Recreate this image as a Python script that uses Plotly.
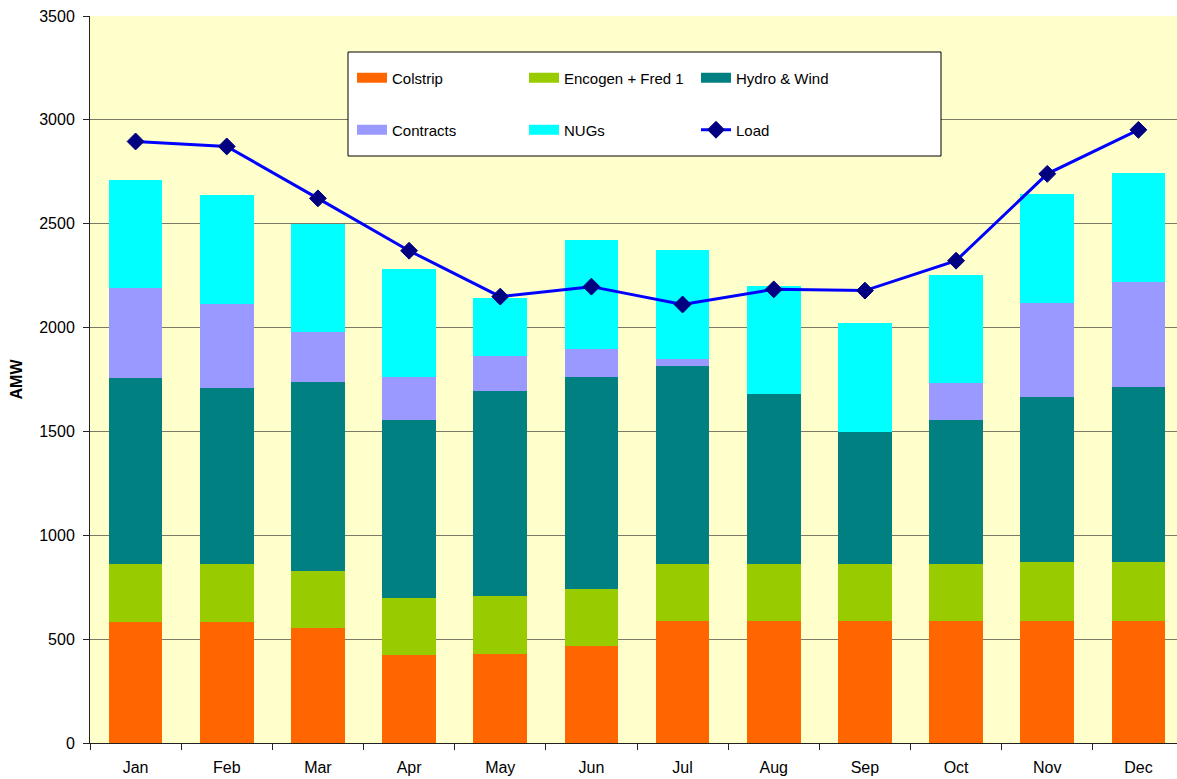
import plotly.graph_objects as go

months = ["Jan", "Feb", "Mar", "Apr", "May", "Jun", "Jul", "Aug", "Sep", "Oct", "Nov", "Dec"]
colstrip = [582, 582, 553, 423, 428, 466, 587, 587, 587, 587, 587, 587]
encogen = [279, 279, 274, 274, 279, 274, 274, 274, 274, 274, 283, 283]
hydro = [894, 847, 913, 856, 990, 1024, 956, 817, 636, 692, 798, 846]
contracts = [435, 407, 238, 207, 168, 135, 34, 0, 0, 178, 452, 505]
nugs = [522, 524, 522, 524, 279, 524, 524, 524, 527, 524, 524, 524]
load = [2896, 2872, 2622, 2370, 2149, 2197, 2111, 2184, 2178, 2322, 2740, 2952]

bar_series = [
    ("Colstrip", colstrip, "#FF6600", "legend"),
    ("Encogen + Fred 1", encogen, "#99CC00", "legend"),
    ("Hydro & Wind", hydro, "#008080", "legend"),
    ("Contracts", contracts, "#9999FF", "legend2"),
    ("NUGs", nugs, "#00FFFF", "legend2"),
]

FONT = "Arial, Liberation Sans, sans-serif"

fig = go.Figure()
for name, vals, color, _ in bar_series:
    fig.add_trace(go.Bar(x=months, y=vals, name=name, marker=dict(color=color, line=dict(width=0)),
                         legendgroup=name, showlegend=False))

# legend entries (rectangular swatches like the original)
for name, vals, color, lg in bar_series:
    fig.add_trace(go.Scatter(x=[None], y=[None], mode="lines", name=name, legendgroup=name,
                             line=dict(color=color, width=10), legend=lg, hoverinfo="skip"))

fig.add_trace(go.Scatter(x=months, y=load, name="Load", mode="lines+markers",
                         line=dict(color="#0000FF", width=3),
                         marker=dict(symbol="diamond", size=13, color="#000080",
                                     line=dict(color="#000080", width=1)),
                         legend="legend2"))

plot_l, plot_r_px, plot_t, plot_b_px = 90, 1177, 16, 743
pw = plot_r_px - plot_l
ph = plot_b_px - plot_t

def px_x(p):
    return (p - plot_l) / pw

def px_y(p):
    return (plot_b_px - p) / ph

legend_common = dict(orientation="h", bgcolor="rgba(0,0,0,0)", borderwidth=0,
                     font=dict(family=FONT, size=15, color="#000000"),
                     entrywidth=127, entrywidthmode="pixels", itemwidth=30,
                     xanchor="left", yanchor="middle", traceorder="normal",
                     itemclick=False, itemdoubleclick=False)

fig.update_layout(
    width=1177, height=779,
    margin=dict(l=plot_l, r=1177 - plot_r_px, t=plot_t, b=779 - plot_b_px),
    paper_bgcolor="#FFFFFF",
    plot_bgcolor="#FFFFCC",
    barmode="stack",
    bargap=0.41,
    font=dict(family=FONT, size=16, color="#000000"),
    legend=dict(x=px_x(352), y=px_y(78), **legend_common),
    legend2=dict(x=px_x(352), y=px_y(130), **legend_common),
    shapes=[dict(type="rect", xref="paper", yref="paper",
                 x0=px_x(348), x1=px_x(941), y0=px_y(156), y1=px_y(52),
                 fillcolor="#FFFFFF", line=dict(color="#000000", width=1), layer="above")],
    xaxis=dict(type="category", range=[-0.5, 11.5 - 7 / 91.17], showgrid=False,
               showline=True, linecolor="#222222", linewidth=1,
               ticks="outside", tickson="boundaries", ticklen=6, tickcolor="#222222",
               tickfont=dict(family=FONT, size=16), ticklabelstandoff=10),
    yaxis=dict(range=[0, 3500], dtick=500, tick0=0, showgrid=True, gridcolor="#7A7A66", gridwidth=1,
               zeroline=False, showline=True, linecolor="#222222", linewidth=1,
               ticks="outside", ticklen=6, tickcolor="#222222",
               tickfont=dict(family=FONT, size=16), ticklabelstandoff=5,
               title=dict(text="<b>AMW</b>", font=dict(family=FONT, size=16), standoff=12)),
)

fig.write_html("out.html", config={"displayModeBar": False},
               post_script="document.body.style.margin='0';document.body.style.overflow='hidden';")
